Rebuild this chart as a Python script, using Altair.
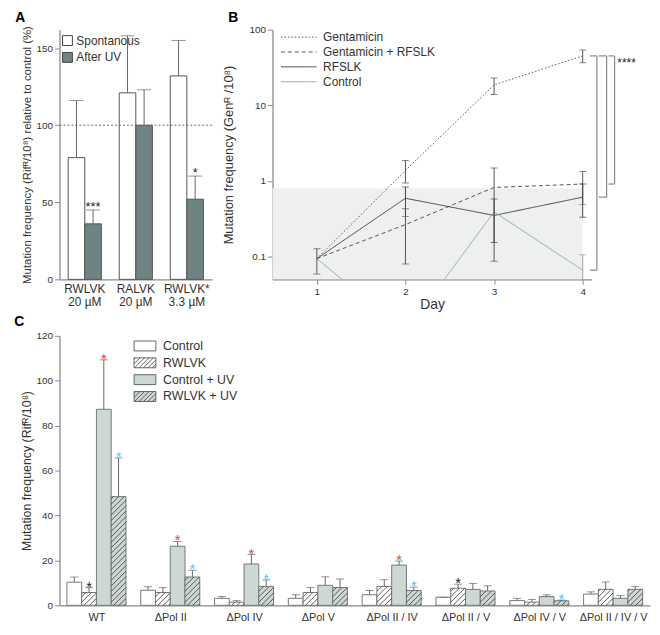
import json
import altair as alt
import numpy as np
import pandas as pd

FONT = "Liberation Sans"
AXIS_GRAY = "#8a8a8a"
TEXT = "#333333"

# ---------------- Panel A data ----------------
a_peptides = ["RWLVK", "RALVK", "RWLVK*"]
a_conc = ["20 µM", "20 µM", "3.3 µM"]
a_series = ["Spontanous", "After UV"]
a_spont = [79, 121, 132]
a_spont_top = [116, 158, 155]
a_uv = [36, 100, 52]
a_uv_top = [45, 123, 67]
a_uv_stars = ["***", "", "*"]
a_ref_value = [100]

# ---------------- Panel B data ----------------
b_series = ["Gentamicin", "Gentamicin + RFSLK", "RFSLK", "Control"]
b_days = [1, 2, 3, 4]
b_gent = [0.094, 1.38, 18.6, 45.0]
b_gent_lo = [0.059, 0.94, 13.9, 36.4]
b_gent_hi = [0.127, 1.86, 23.0, 53.8]
b_gr = [0.094, 0.265, 0.82, 0.91]
b_gr_lo = [None, 0.08, 0.087, 0.49]
b_gr_hi = [None, 0.43, 1.48, 1.33]
b_rf = [0.094, 0.59, 0.35, 0.61]
b_rf_lo = [None, 0.34, 0.154, 0.33]
b_rf_hi = [None, 0.83, 0.575, 0.91]
b_ctrl = [0.094, 0.010, 0.39, 0.066]
b_ctrl_lo = [None, None, None, 0.026]
b_ctrl_hi = [None, None, None, 0.106]
b_shade_days = [0.5, 4]
b_shade_freq = [0.05, 0.8]
b_bracket_pairs = [("Gentamicin", "Control"), ("Gentamicin", "RFSLK"),
                   ("Gentamicin", "Gentamicin + RFSLK")]
b_sig_text = "****"

# ---------------- Panel C data ----------------
c_groups = ["WT", "ΔPol II", "ΔPol IV", "ΔPol V", "ΔPol II / IV",
            "ΔPol II / V", "ΔPol IV / V", "ΔPol II / IV / V"]
c_series = ["Control", "RWLVK", "Control + UV", "RWLVK + UV"]
c_control = [10.3, 6.7, 3.1, 3.1, 4.7, 3.6, 2.1, 5.0]
c_control_top = [12.6, 8.3, 3.9, 4.7, 6.6, 3.6, 3.1, 6.0]
c_rwlvk = [5.7, 5.7, 1.4, 5.7, 8.4, 7.6, 1.4, 7.1]
c_rwlvk_top = [7.9, 7.9, 2.1, 7.9, 11.4, 9.4, 2.6, 10.4]
c_cuv = [87.3, 26.3, 18.4, 8.9, 17.9, 7.1, 3.9, 3.1]
c_cuv_top = [109.3, 28.4, 22.6, 12.7, 19.7, 9.7, 4.7, 4.3]
c_ruv = [48.4, 12.6, 8.4, 7.9, 6.6, 6.4, 2.0, 7.1]
c_ruv_top = [65.6, 15.6, 11.3, 11.7, 8.1, 8.7, 2.3, 8.4]
c_star_control = ["", "", "", "", "", "", "", ""]
c_star_rwlvk = ["black", "", "", "", "", "black", "", ""]
c_star_cuv = ["red", "red", "red", "", "red", "", "", ""]
c_star_ruv = ["blue", "blue", "blue", "", "blue", "", "blue", ""]

STAR_COLORS = {"black": "#222222", "red": "#f03c3c", "blue": "#5cc3f0"}

INDEP = dict(color="independent", fill="independent", shape="independent",
             strokeDash="independent", strokeWidth="independent", stroke="independent")

# =============== Panel A ===============
A_W, A_H = 154, 252
a_keys = [f"{p}|{c}" for p, c in zip(a_peptides, a_conc)]
rows = []
for i, k in enumerate(a_keys):
    rows.append(dict(a_group=k, a_series=a_series[0], value=a_spont[i], top=a_spont_top[i], star=""))
    rows.append(dict(a_group=k, a_series=a_series[1], value=a_uv[i], top=a_uv_top[i], star=a_uv_stars[i]))
dfA = pd.DataFrame(rows)

xA = alt.X("a_group:N", sort=a_keys,
           scale=alt.Scale(domain=a_keys, paddingInner=0.35, paddingOuter=0.17),
           axis=alt.Axis(title=None, ticks=False, labelAngle=0, labelFontSize=12,
                         labelExpr="split(datum.label, '|')", labelLineHeight=13,
                         labelPadding=4, labelBaseline="top"))
xoA = alt.XOffset("a_series:N", sort=a_series, scale=alt.Scale(domain=a_series))
yA_scale = alt.Scale(domain=[0, 162], nice=False)

barsA = alt.Chart(dfA).mark_bar(stroke="#555555", strokeWidth=1).encode(
    x=xA, xOffset=xoA,
    y=alt.Y("value:Q", scale=yA_scale,
            axis=alt.Axis(values=[0, 50, 100, 150], titleFontSize=11.5, titlePadding=4,
                          title="Mutation frequency (Rifᴿ/10⁸) relative to control (%)")),
    fill=alt.Fill("a_series:N", sort=a_series,
                  scale=alt.Scale(domain=a_series, range=["#ffffff", "#6f8383"]),
                  legend=alt.Legend(title=None, orient="none", legendX=2, legendY=5,
                                    symbolType="square", symbolSize=100,
                                    symbolStrokeColor="#444444", symbolStrokeWidth=1,
                                    labelFontSize=12, rowPadding=3, padding=0,
                                    labelOffset=3)),
)
errA = alt.Chart(dfA).mark_rule(color="#666666", strokeWidth=1).encode(
    x=xA, xOffset=xoA, y=alt.Y("value:Q", scale=yA_scale), y2="top:Q")
capA = alt.Chart(dfA).mark_tick(color="#666666", size=14, thickness=1,
                                orient="horizontal").encode(
    x=xA, xOffset=xoA, y=alt.Y("top:Q", scale=yA_scale))
starA = alt.Chart(dfA).transform_filter("datum.star != ''").mark_text(
    fontSize=13, color="#222222", baseline="alphabetic", dy=1).encode(
    x=xA, xOffset=xoA, y=alt.Y("top:Q", scale=yA_scale), text="star:N")
refA = alt.Chart(pd.DataFrame({"ref": a_ref_value})).mark_rule(
    color="#666666", strokeDash=[2, 2], strokeWidth=1).encode(
    y=alt.Y("ref:Q", scale=yA_scale))

panelA = alt.layer(barsA, errA, capA, starA, refA).properties(
    width=A_W, height=A_H,
    title=alt.TitleParams("A", anchor="start", fontSize=14, fontWeight="bold",
                          frame="bounds", dx=-6, offset=0))

# =============== Panel B ===============
B_W, B_H = 322, 252
series_vals = {"Gentamicin": (b_gent, b_gent_lo, b_gent_hi),
               "Gentamicin + RFSLK": (b_gr, b_gr_lo, b_gr_hi),
               "RFSLK": (b_rf, b_rf_lo, b_rf_hi),
               "Control": (b_ctrl, b_ctrl_lo, b_ctrl_hi)}
rows = []
for s in b_series:
    v, lo, hi = series_vals[s]
    for d, vv, l, h in zip(b_days, v, lo, hi):
        rows.append(dict(b_series=s, day=d, value=vv,
                         lo=np.nan if l is None else l, hi=np.nan if h is None else h))
dfB = pd.DataFrame(rows)
dfB_err = dfB.dropna(subset=["lo", "hi"])

xB_scale = alt.Scale(domain=[0.5, 4.1], nice=False, zero=False)
yB_scale = alt.Scale(type="log", domain=[0.05, 100], nice=False)
b_line_colors = ["#555555", "#555555", "#444444", "#9aa4a4"]

shadeB = alt.Chart(pd.DataFrame({"d0": [b_shade_days[0]], "d1": [b_shade_days[1]],
                                 "f0": [b_shade_freq[0]], "f1": [b_shade_freq[1]]})).mark_rect(
    color="#eef0ef").encode(
    x=alt.X("d0:Q", scale=xB_scale,
            axis=alt.Axis(values=b_days, format="d", title="Day", titleFontSize=14,
                          labelFontSize=10, titlePadding=1, labelPadding=2)),
    x2="d1:Q",
    y=alt.Y("f0:Q", scale=yB_scale,
            axis=alt.Axis(values=[0.1, 1, 10, 100], format="~g", titleFontSize=13,
                          titlePadding=14,
                          title="Mutation frequency (Genᴿ /10⁸)")),
    y2="f1:Q")

# long horizontal line sample for the legend (row height stays compact)
legB = alt.Legend(title=None, orient="none", legendX=20, legendY=1,
                  symbolType="M-3,0H3", symbolSize=144, labelFontSize=12,
                  rowPadding=2, labelOffset=18, padding=0)
linesB = alt.Chart(dfB).mark_line(clip=True).encode(
    x=alt.X("day:Q", scale=xB_scale),
    y=alt.Y("value:Q", scale=yB_scale),
    color=alt.Color("b_series:N", sort=b_series,
                    scale=alt.Scale(domain=b_series, range=b_line_colors), legend=legB),
    strokeDash=alt.StrokeDash("b_series:N", sort=b_series,
                              scale=alt.Scale(domain=b_series,
                                              range=[[1.5, 2], [4, 3], [1, 0], [1, 0]]),
                              legend=legB),
    strokeWidth=alt.StrokeWidth("b_series:N", sort=b_series,
                                scale=alt.Scale(domain=b_series, range=[1, 1, 1, 2]),
                                legend=legB),
)
colB_noleg = alt.Color("b_series:N", scale=alt.Scale(domain=b_series, range=b_line_colors),
                       legend=None)
errB = alt.Chart(dfB_err).mark_rule(clip=True, strokeWidth=1).encode(
    x=alt.X("day:Q", scale=xB_scale), y=alt.Y("lo:Q", scale=yB_scale), y2="hi:Q",
    color=colB_noleg)
capB_lo = alt.Chart(dfB_err).mark_tick(clip=True, size=7, thickness=1,
                                       orient="horizontal").encode(
    x=alt.X("day:Q", scale=xB_scale), y=alt.Y("lo:Q", scale=yB_scale), color=colB_noleg)
capB_hi = alt.Chart(dfB_err).mark_tick(clip=True, size=7, thickness=1,
                                       orient="horizontal").encode(
    x=alt.X("day:Q", scale=xB_scale), y=alt.Y("hi:Q", scale=yB_scale), color=colB_noleg)

# significance brackets built from the day-4 values
last = {s: series_vals[s][0][-1] for s in b_series}
br_vert = [4.16, 4.27, 4.36]
br_left = [4.08, 4.18, 4.29]
seg = []
for (top_s, bot_s), xv, xl in zip(b_bracket_pairs, br_vert, br_left):
    t, b = last[top_s], last[bot_s]
    seg.append(dict(x0=xv, x1=xv, y0=t, y1=b))
    seg.append(dict(x0=xl, x1=xv, y0=t, y1=t))
    seg.append(dict(x0=xl, x1=xv, y0=b, y1=b))
bracketB = alt.Chart(pd.DataFrame(seg)).mark_rule(color="#8a8a8a", strokeWidth=1.2).encode(
    x=alt.X("x0:Q", scale=xB_scale), x2="x1:Q",
    y=alt.Y("y0:Q", scale=yB_scale), y2="y1:Q")
sigB = alt.Chart(pd.DataFrame({"x": [4.39], "y": [last["Gentamicin"] * 0.8],
                               "t": [b_sig_text]})).mark_text(
    align="left", baseline="middle", fontSize=12, color="#222222").encode(
    x=alt.X("x:Q", scale=xB_scale), y=alt.Y("y:Q", scale=yB_scale), text="t:N")

panelB = alt.layer(shadeB, linesB, errB, capB_lo, capB_hi, bracketB, sigB).properties(
    width=B_W, height=B_H,
    title=alt.TitleParams("B", anchor="start", fontSize=14, fontWeight="bold",
                          frame="bounds", dx=6, offset=0))

# =============== Panel C ===============
C_W, C_H = 596, 272
X_UNITS = 40
kx = C_W / X_UNITS
ky = C_H / 120.0
c_vals = [c_control, c_rwlvk, c_cuv, c_ruv]
c_tops = [c_control_top, c_rwlvk_top, c_cuv_top, c_ruv_top]
c_stars = [c_star_control, c_star_rwlvk, c_star_cuv, c_star_ruv]
rows = []
for g, grp in enumerate(c_groups):
    for s, ser in enumerate(c_series):
        x0 = 0.5 + 5 * g + s
        rows.append(dict(group=grp, c_series=ser, x0=x0, x1=x0 + 1, xc=x0 + 0.5,
                         base=0.0, value=c_vals[s][g], top=c_tops[s][g],
                         star=c_stars[s][g]))
dfC = pd.DataFrame(rows)
dfC["star_color"] = dfC["star"].map(lambda c: STAR_COLORS.get(c, "#000000"))
hatched = {"RWLVK", "RWLVK + UV"}

# hatch segments derived from each hatched bar's value
spacing = 5.5
hrows = []
for r in dfC.itertuples():
    if r.c_series not in hatched:
        continue
    w = kx
    H = r.value * ky
    c = -w + 1.5
    while c < H:
        p0 = max(0.0, -c)
        p1 = min(w, H - c)
        if p1 > p0 + 0.3:
            hrows.append(dict(hx0=r.x0 + p0 / kx, hx1=r.x0 + p1 / kx,
                              hy0=(p0 + c) / ky, hy1=(p1 + c) / ky))
        c += spacing
dfH = pd.DataFrame(hrows)

xC_scale = alt.Scale(domain=[0, X_UNITS], nice=False, zero=False)
yC_scale = alt.Scale(domain=[0, 120], nice=False)
centers = [2.5 + 5 * g for g in range(len(c_groups))]
label_expr = json.dumps(c_groups, ensure_ascii=False) + "[round((datum.value - 2.5) / 5)]"

fillC_scale = alt.Scale(domain=c_series, range=["#ffffff", "#ffffff", "#cdd8d5", "#cdd8d5"])


# legend symbols: 22x10 px rectangle (plain or hatched), drawn at symbolSize 100 (r = 5 px)
def rect_path(hatch):
    hw, hh = 2.2, 1.0
    p = f"M{-hw},{-hh}H{hw}V{hh}H{-hw}Z"
    if hatch:
        segs = []
        step = 0.9
        x0 = -hw - 2 * hh + 0.3
        while x0 < hw:
            sx, sy = x0, hh
            ex, ey = x0 + 2 * hh, -hh
            if sx < -hw:
                sy = hh - (-hw - sx)
                sx = -hw
            if ex > hw:
                ey = hh - (hw - x0)
                ex = hw
            if ex - sx > 0.1:
                segs.append(f"M{sx:.3f},{sy:.3f}L{ex:.3f},{ey:.3f}")
            x0 += step
        p += "".join(segs)
    return p


shape_range = [rect_path(s in hatched) for s in c_series]
legC = alt.Legend(title=None, orient="none", legendX=80, legendY=4,
                  symbolSize=100, symbolOpacity=1, symbolStrokeWidth=0.9,
                  labelFontSize=12.5, rowPadding=2, labelOffset=12, padding=0)
fillC = alt.Fill("c_series:N", sort=c_series, scale=fillC_scale, legend=legC)

barsC = alt.Chart(dfC).mark_bar(stroke="#777777", strokeWidth=1).encode(
    x=alt.X("x0:Q", scale=xC_scale,
            axis=alt.Axis(values=centers, labelExpr=label_expr, ticks=False, title=None,
                          labelFontSize=11, labelPadding=6)),
    x2="x1:Q",
    y=alt.Y("value:Q", scale=yC_scale,
            axis=alt.Axis(values=list(range(0, 121, 20)), titleFontSize=12.5,
                          titlePadding=3,
                          title="Mutation frequency (Rifᴿ/10⁸)")),
    y2="base:Q",
    fill=fillC,
)
hatchC = alt.Chart(dfH).mark_rule(color="#333333", strokeWidth=0.8).encode(
    x=alt.X("hx0:Q", scale=xC_scale), x2="hx1:Q",
    y=alt.Y("hy0:Q", scale=yC_scale), y2="hy1:Q")
errC = alt.Chart(dfC).mark_rule(color="#666666", strokeWidth=1).encode(
    x=alt.X("xc:Q", scale=xC_scale), y=alt.Y("value:Q", scale=yC_scale), y2="top:Q")
capC = alt.Chart(dfC).mark_tick(color="#666666", size=8, thickness=1,
                                orient="horizontal").encode(
    x=alt.X("xc:Q", scale=xC_scale), y=alt.Y("top:Q", scale=yC_scale))
starC = alt.Chart(dfC).transform_filter("datum.star != ''").mark_text(
    text="*", fontSize=15, baseline="alphabetic", dy=4).encode(
    x=alt.X("xc:Q", scale=xC_scale), y=alt.Y("top:Q", scale=yC_scale),
    color=alt.Color("star_color:N", scale=None))
legendC = alt.Chart(dfC).mark_point(filled=False, opacity=0, size=1,
                                    strokeWidth=0.9).encode(
    x=alt.X("xc:Q", scale=xC_scale), y=alt.Y("value:Q", scale=yC_scale),
    fill=fillC,
    stroke=alt.Stroke("c_series:N", sort=c_series,
                      scale=alt.Scale(domain=c_series, range=["#555555"] * 4), legend=legC),
    shape=alt.Shape("c_series:N", sort=c_series,
                    scale=alt.Scale(domain=c_series, range=shape_range), legend=legC),
)

panelC = alt.layer(barsC, hatchC, errC, capC, starC, legendC).properties(
    width=C_W, height=C_H,
    title=alt.TitleParams("C", anchor="start", fontSize=14, fontWeight="bold",
                          frame="bounds", dx=-6, offset=2))

row1 = alt.hconcat(panelA, panelB, spacing=9).resolve_scale(**INDEP).resolve_legend(**INDEP)
chart = alt.vconcat(row1, panelC, spacing=4).resolve_scale(**INDEP).resolve_legend(
    **INDEP).configure(
    font=FONT, padding={"left": 6, "top": 0, "right": 2, "bottom": 0}
).configure_view(stroke=None).configure_axis(
    domainColor=AXIS_GRAY, domainWidth=1.3, tickColor=AXIS_GRAY, tickSize=5,
    labelColor=TEXT, titleColor=TEXT, labelFontSize=10, titleFontSize=13,
    titleFontWeight="normal", grid=False
).configure_legend(labelColor=TEXT)

chart.save("out.html", embed_options={"renderer": "svg", "actions": False})
